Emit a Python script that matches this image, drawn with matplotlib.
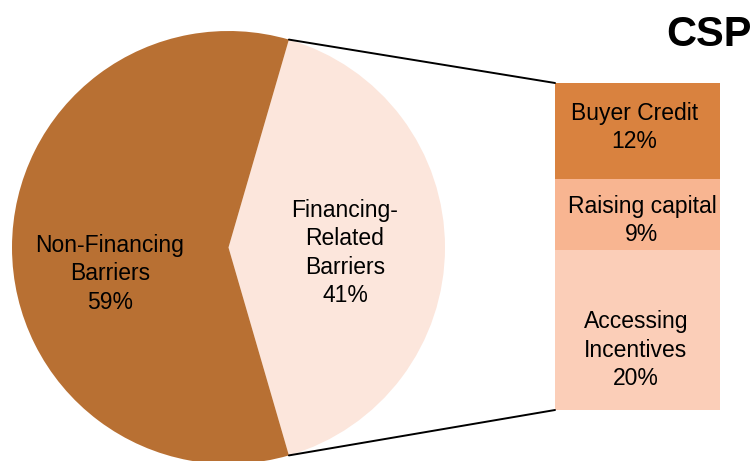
import matplotlib.pyplot as plt
from matplotlib.patches import ConnectionPatch
import numpy as np

plt.rcParams['font.family'] = ['Liberation Sans', 'DejaVu Sans']

# pie data
pie_labels = ['Financing-\nRelated\nBarriers', 'Non-Financing\nBarriers']
pie_values = [41, 59]
pie_colors = ['#FCE6DC', '#B87033']

# breakdown of financing-related barriers (top to bottom)
bar_labels = ['Buyer Credit', 'Raising capital', 'Accessing\nIncentives']
bar_values = [12, 9, 20]
bar_colors = ['#D9823F', '#F8B591', '#FBCEB8']

W, H = 754, 461
fig = plt.figure(figsize=(W / 100, H / 100), dpi=100)

# pie axes in pixel coordinates
ax = fig.add_axes([0, 0, 1, 1])
cx, cy, r = 228.5, 213.5, 216.5
half = pie_values[0] / 100 * 360 / 2
ax.pie(pie_values, colors=pie_colors, startangle=-half,
       center=(cx, cy), radius=r, frame=True)
ax.set_xlim(0, W)
ax.set_ylim(0, H)
ax.set_aspect('equal')
ax.axis('off')

FS = 16.5
ax.text(345, 208, f"{pie_labels[0]}\n{pie_values[0]}%", ha='center', va='center',
        fontsize=FS, linespacing=1.3)
ax.text(110, 187, f"{pie_labels[1]}\n{pie_values[1]}%", ha='center', va='center',
        fontsize=FS, linespacing=1.3)

ax.text(752, 426, 'CSP', ha='right', va='center', fontsize=30, fontweight='bold')

# stacked bar
bx = fig.add_axes([555 / W, 51 / H, 165 / W, 327 / H])
total = sum(bar_values)
bx.set_xlim(-0.5, 0.5)
bx.set_ylim(0, total)
bx.axis('off')
bottom = total
label_dx = [-0.02, 0.027, -0.01]
label_dy = [0.4, -0.75, -2.5]
for lab, val, col, dx, dy in zip(bar_labels, bar_values, bar_colors, label_dx, label_dy):
    bottom -= val
    bx.bar(0, val, width=1, bottom=bottom, color=col)
    bx.text(dx, bottom + val / 2 + dy, f"{lab}\n{val}%", ha='center', va='center',
            fontsize=FS, linespacing=1.3)

# connector lines
theta = np.deg2rad(half)
for sign, ybar in [(1, total), (-1, 0)]:
    px = cx + r * np.cos(theta)
    py = cy + sign * r * np.sin(theta)
    con = ConnectionPatch(xyA=(-0.5, ybar), coordsA=bx.transData,
                          xyB=(px, py), coordsB=ax.transData,
                          color='black', linewidth=1.4)
    fig.add_artist(con)

fig.savefig('out.png', dpi=100)
